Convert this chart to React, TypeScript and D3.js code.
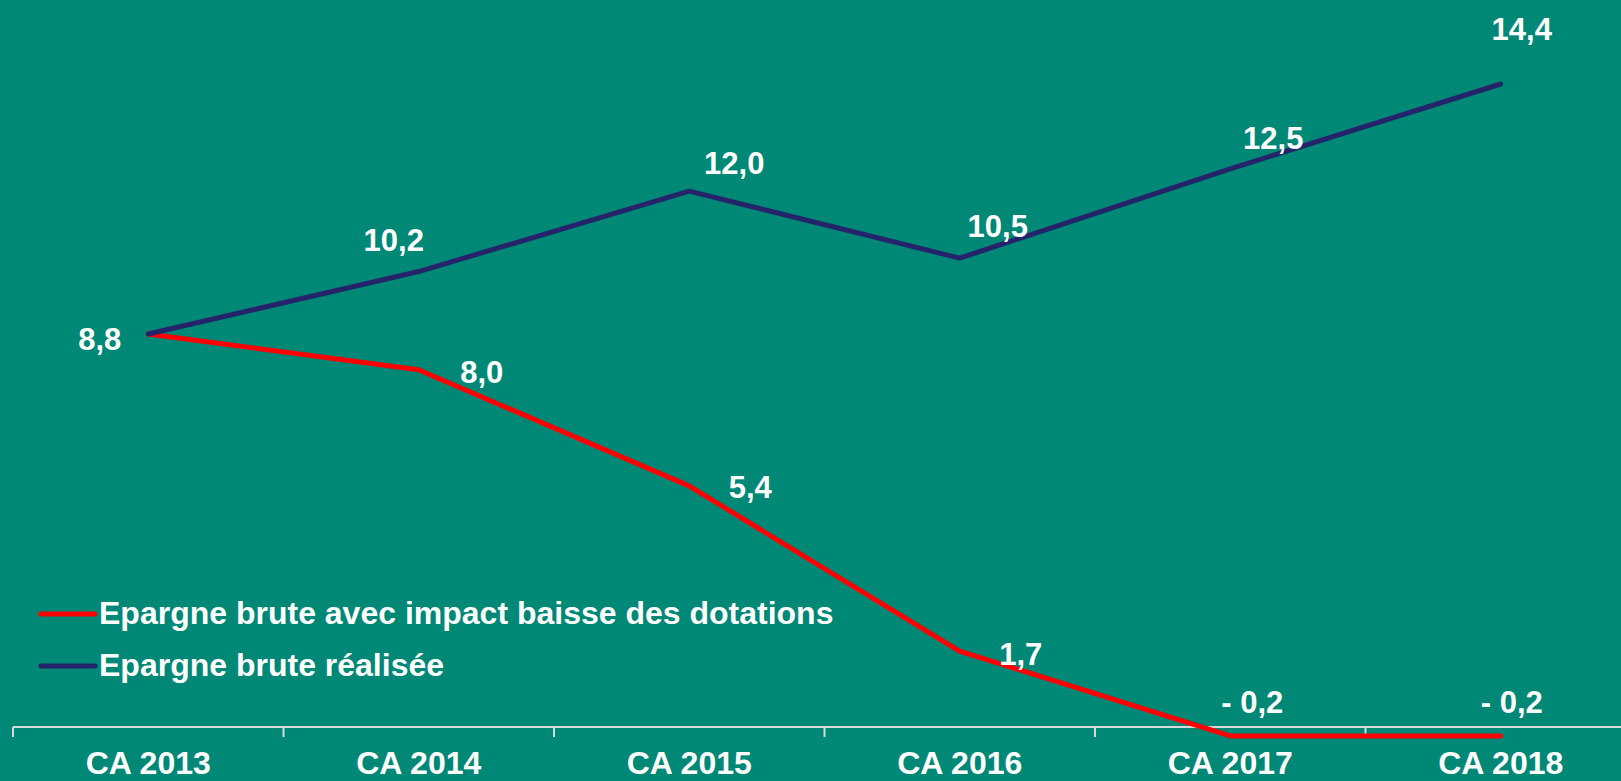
import React from 'react';
import * as d3 from 'd3';

const categories = ['CA 2013', 'CA 2014', 'CA 2015', 'CA 2016', 'CA 2017', 'CA 2018'];

const seriesNames = ['Epargne brute avec impact baisse des dotations', 'Epargne brute réalisée'];
const seriesColors = ['#ff0000', '#25246b'];

const avecImpact = [8.8, 8.0, 5.4, 1.7, -0.2, -0.2];
const realisee = [8.8, 10.2, 12.0, 10.5, 12.5, 14.4];

// label offsets from the point (dx, dy), null = no label
const avecImpactDx = [null, 63, 61, 61, 22, 11];
const avecImpactDy = [null, 13, 12, 14, -23, -23];
const realiseeDx = [-27, -25, 45, 38, 43, 21];
const realiseeDy = [16, -21, -17, -21, -20, -44];

const W = 1621;
const H = 781;
const BG = '#008877';
const FONT = '"Liberation Sans", Arial, sans-serif';

function fmt(v: number) {
  let s = Math.abs(v).toFixed(1).replace('.', ',');
  return v < 0 ? '- ' + s : s;
}

export default function App() {
  let x = d3.scaleBand().domain(categories).range([13, 13 + 6 * 270.5]);
  let y = d3.scaleLinear().domain([0, 14.4]).range([727, 84]);
  let cx = (c: string) => (x(c) as number) + x.bandwidth() / 2;

  let line = d3
    .line<number>()
    .x((d, i) => cx(categories[i]))
    .y((d) => y(d));

  let series = [
    { name: seriesNames[0], color: seriesColors[0], values: avecImpact, dx: avecImpactDx, dy: avecImpactDy },
    { name: seriesNames[1], color: seriesColors[1], values: realisee, dx: realiseeDx, dy: realiseeDy }
  ];

  let axisY = y(0);
  let ticks = categories.map((c) => x(c) as number).concat([x.range()[1]]);

  return (
    <svg
      width={W}
      height={H}
      style={{ position: 'absolute', left: 0, top: 0, display: 'block' }}
      fontFamily={FONT}
      fontWeight="bold">
      <rect width={W} height={H} fill={BG} />

      {/* category axis */}
      <line x1={x.range()[0]} x2={x.range()[1]} y1={axisY} y2={axisY} stroke="#d9d9d9" strokeWidth={2} />
      {ticks.map((t, i) => (
        <line key={i} x1={t} x2={t} y1={axisY} y2={axisY + 10} stroke="#d9d9d9" strokeWidth={2} />
      ))}
      {categories.map((c) => (
        <text key={c} x={cx(c)} y={774} fill="#fff" fontSize={32} textAnchor="middle">
          {c}
        </text>
      ))}

      {/* lines */}
      {series.map((s) => (
        <path
          key={s.name}
          d={line(s.values) || ''}
          fill="none"
          stroke={s.color}
          strokeWidth={5}
          strokeLinejoin="round"
          strokeLinecap="round"
        />
      ))}

      {/* data labels */}
      {series.map((s) =>
        s.values.map((v, i) => {
          if (s.dx[i] == null) return null;
          let px = cx(categories[i]) + (s.dx[i] as number);
          let py = y(v) + (s.dy[i] as number);
          let anchor = i === 0 ? 'end' : 'middle';
          return (
            <text key={s.name + i} x={px} y={py} fill="#fff" fontSize={31} textAnchor={anchor}>
              {fmt(v)}
            </text>
          );
        })
      )}

      {/* legend */}
      {series.map((s, i) => (
        <g key={'lg' + i} transform={`translate(41, ${614 + i * 52})`}>
          <line x1={0} x2={54} y1={0} y2={0} stroke={s.color} strokeWidth={5} strokeLinecap="round" />
          <text x={58} y={10} fill="#fff" fontSize={32}>
            {s.name}
          </text>
        </g>
      ))}
    </svg>
  );
}
